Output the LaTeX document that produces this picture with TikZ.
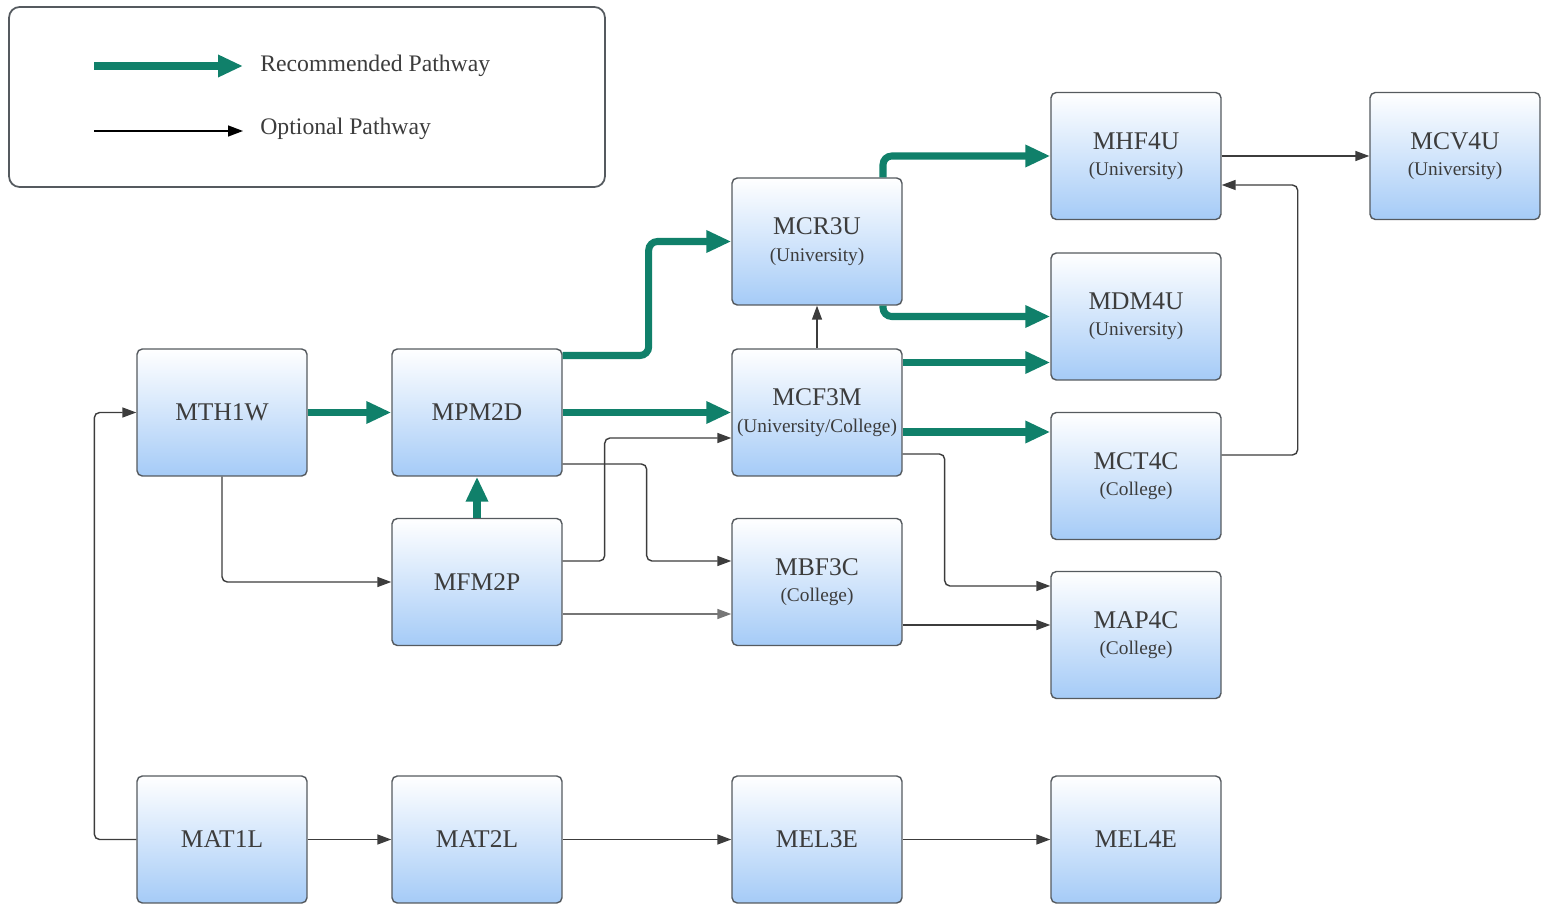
\documentclass[tikz,border=0pt]{standalone}
\usepackage{fontspec}
\setmainfont{Liberation Serif}
\usetikzlibrary{arrows.meta,calc}
\definecolor{recgreen}{RGB}{16,128,106}
\definecolor{optgray}{RGB}{60,60,60}
\definecolor{boxborder}{RGB}{85,90,95}
\definecolor{boxblue}{RGB}{165,203,247}
\definecolor{boxmid}{RGB}{230,241,253}
\definecolor{textgray}{RGB}{60,60,60}
\tikzset{
  coursebox/.style={draw=boxborder, line width=0.8pt, rounded corners=3pt,
    top color=white, middle color=boxmid, bottom color=boxblue,
    minimum width=3.4cm, minimum height=2.54cm, inner sep=0pt,
    align=center, text=textgray, font=\fontsize{14.5}{16}\selectfont},
  rec/.style={draw=recgreen, line width=4pt, rounded corners=5pt,
    -{Triangle[length=0.5cm,width=0.42cm]}},
  opt/.style={draw=optgray, line width=0.8pt, rounded corners=3pt,
    -{Triangle[length=0.28cm,width=0.2cm]}},
}
\newcommand{\sub}[1]{\\[-1pt]{\fontsize{11}{13}\selectfont #1}}
\begin{document}
\begin{tikzpicture}[x=0.02cm,y=-0.02cm]
\useasboundingbox (0,0) rectangle (1548,905);
% legend
\node[draw=boxborder, line width=1pt, rounded corners=6pt, minimum width=11.92cm, minimum height=3.6cm, inner sep=0pt] (legend) at (307,97) {};
\coordinate (rA) at (94,66);
\coordinate (rB) at (243,66);
\coordinate (oA) at (94,131);
\coordinate (oB) at (243,131);
\draw[rec, rounded corners=0pt] (rA) -- (rB);
\draw[opt, draw=black, -{Triangle[length=0.3cm,width=0.22cm]}] (oA) -- (oB);
\node[anchor=west, text=textgray, font=\fontsize{13.5}{16}\selectfont, inner sep=0pt] (rtext) at (260,66) {Recommended Pathway};
\node[anchor=west, text=textgray, font=\fontsize{13.5}{16}\selectfont, inner sep=0pt] (otext) at (260,129) {Optional Pathway};
% nodes
\node[coursebox] (MTH1W) at (222,412.5) {MTH1W};
\node[coursebox] (MPM2D) at (477,412.5) {MPM2D};
\node[coursebox] (MFM2P) at (477,582) {MFM2P};
\node[coursebox] (MCR3U) at (817,241.5) {MCR3U\sub{(University)}};
\node[coursebox] (MCF3M) at (817,412.5) {MCF3M\sub{(University/College)}};
\node[coursebox] (MBF3C) at (817,582) {MBF3C\sub{(College)}};
\node[coursebox] (MHF4U) at (1136,156) {MHF4U\sub{(University)}};
\node[coursebox] (MCV4U) at (1455,156) {MCV4U\sub{(University)}};
\node[coursebox] (MDM4U) at (1136,316.5) {MDM4U\sub{(University)}};
\node[coursebox] (MCT4C) at (1136,476) {MCT4C\sub{(College)}};
\node[coursebox] (MAP4C) at (1136,635) {MAP4C\sub{(College)}};
\node[coursebox] (MAT1L) at (222,839.5) {MAT1L};
\node[coursebox] (MAT2L) at (477,839.5) {MAT2L};
\node[coursebox] (MEL3E) at (817,839.5) {MEL3E};
\node[coursebox] (MEL4E) at (1136,839.5) {MEL4E};
% recommended pathways
\draw[rec] (MTH1W.east) -- (MPM2D.west);
\draw[rec] (MPM2D.east) -- (MCF3M.west);
\draw[rec] ($(MPM2D.east)+(0,-57)$) -- ++(86,0) |- (MCR3U.west);
\draw[rec] (MFM2P.north) -- (MPM2D.south);
\draw[rec] ($(MCR3U.north)+(66,0)$) |- (MHF4U.west);
\draw[rec] ($(MCR3U.south)+(66,0)$) |- (MDM4U.west);
\draw[rec] ($(MCF3M.east)+(0,-50)$) coordinate (t1) -- (t1 -| MDM4U.west);
\draw[rec] ($(MCF3M.east)+(0,19.5)$) coordinate (t2) -- (t2 -| MCT4C.west);
% optional pathways
\draw[opt] (MHF4U.east) -- (MCV4U.west);
\draw[opt] ($(MCT4C.east)+(0,-21)$) -- ++(76,0) |- ($(MHF4U.east)+(0,29)$);
\draw[opt] (MCF3M.north) -- (MCR3U.south);
\draw[opt] (MTH1W.south) |- (MFM2P.west);
\draw[opt] (MAT1L.west) -- ++(-42,0) |- (MTH1W.west);
\draw[opt] ($(MPM2D.east)+(0,51.5)$) -- ++(84,0) |- ($(MBF3C.west)+(0,-21)$);
\draw[opt] ($(MFM2P.east)+(0,-21)$) -- ++(42,0) |- ($(MCF3M.west)+(0,25.5)$);
\draw[opt, draw=optgray!70] ($(MFM2P.east)+(0,32)$) coordinate (t3) -- (t3 -| MBF3C.west);
\draw[opt] ($(MCF3M.east)+(0,41.5)$) -- ++(42,0) |- ($(MAP4C.west)+(0,-49)$);
\draw[opt] ($(MBF3C.east)+(0,43)$) coordinate (t4) -- (t4 -| MAP4C.west);
\draw[opt] (MAT1L.east) -- (MAT2L.west);
\draw[opt] (MAT2L.east) -- (MEL3E.west);
\draw[opt] (MEL3E.east) -- (MEL4E.west);
\end{tikzpicture}
\end{document}
